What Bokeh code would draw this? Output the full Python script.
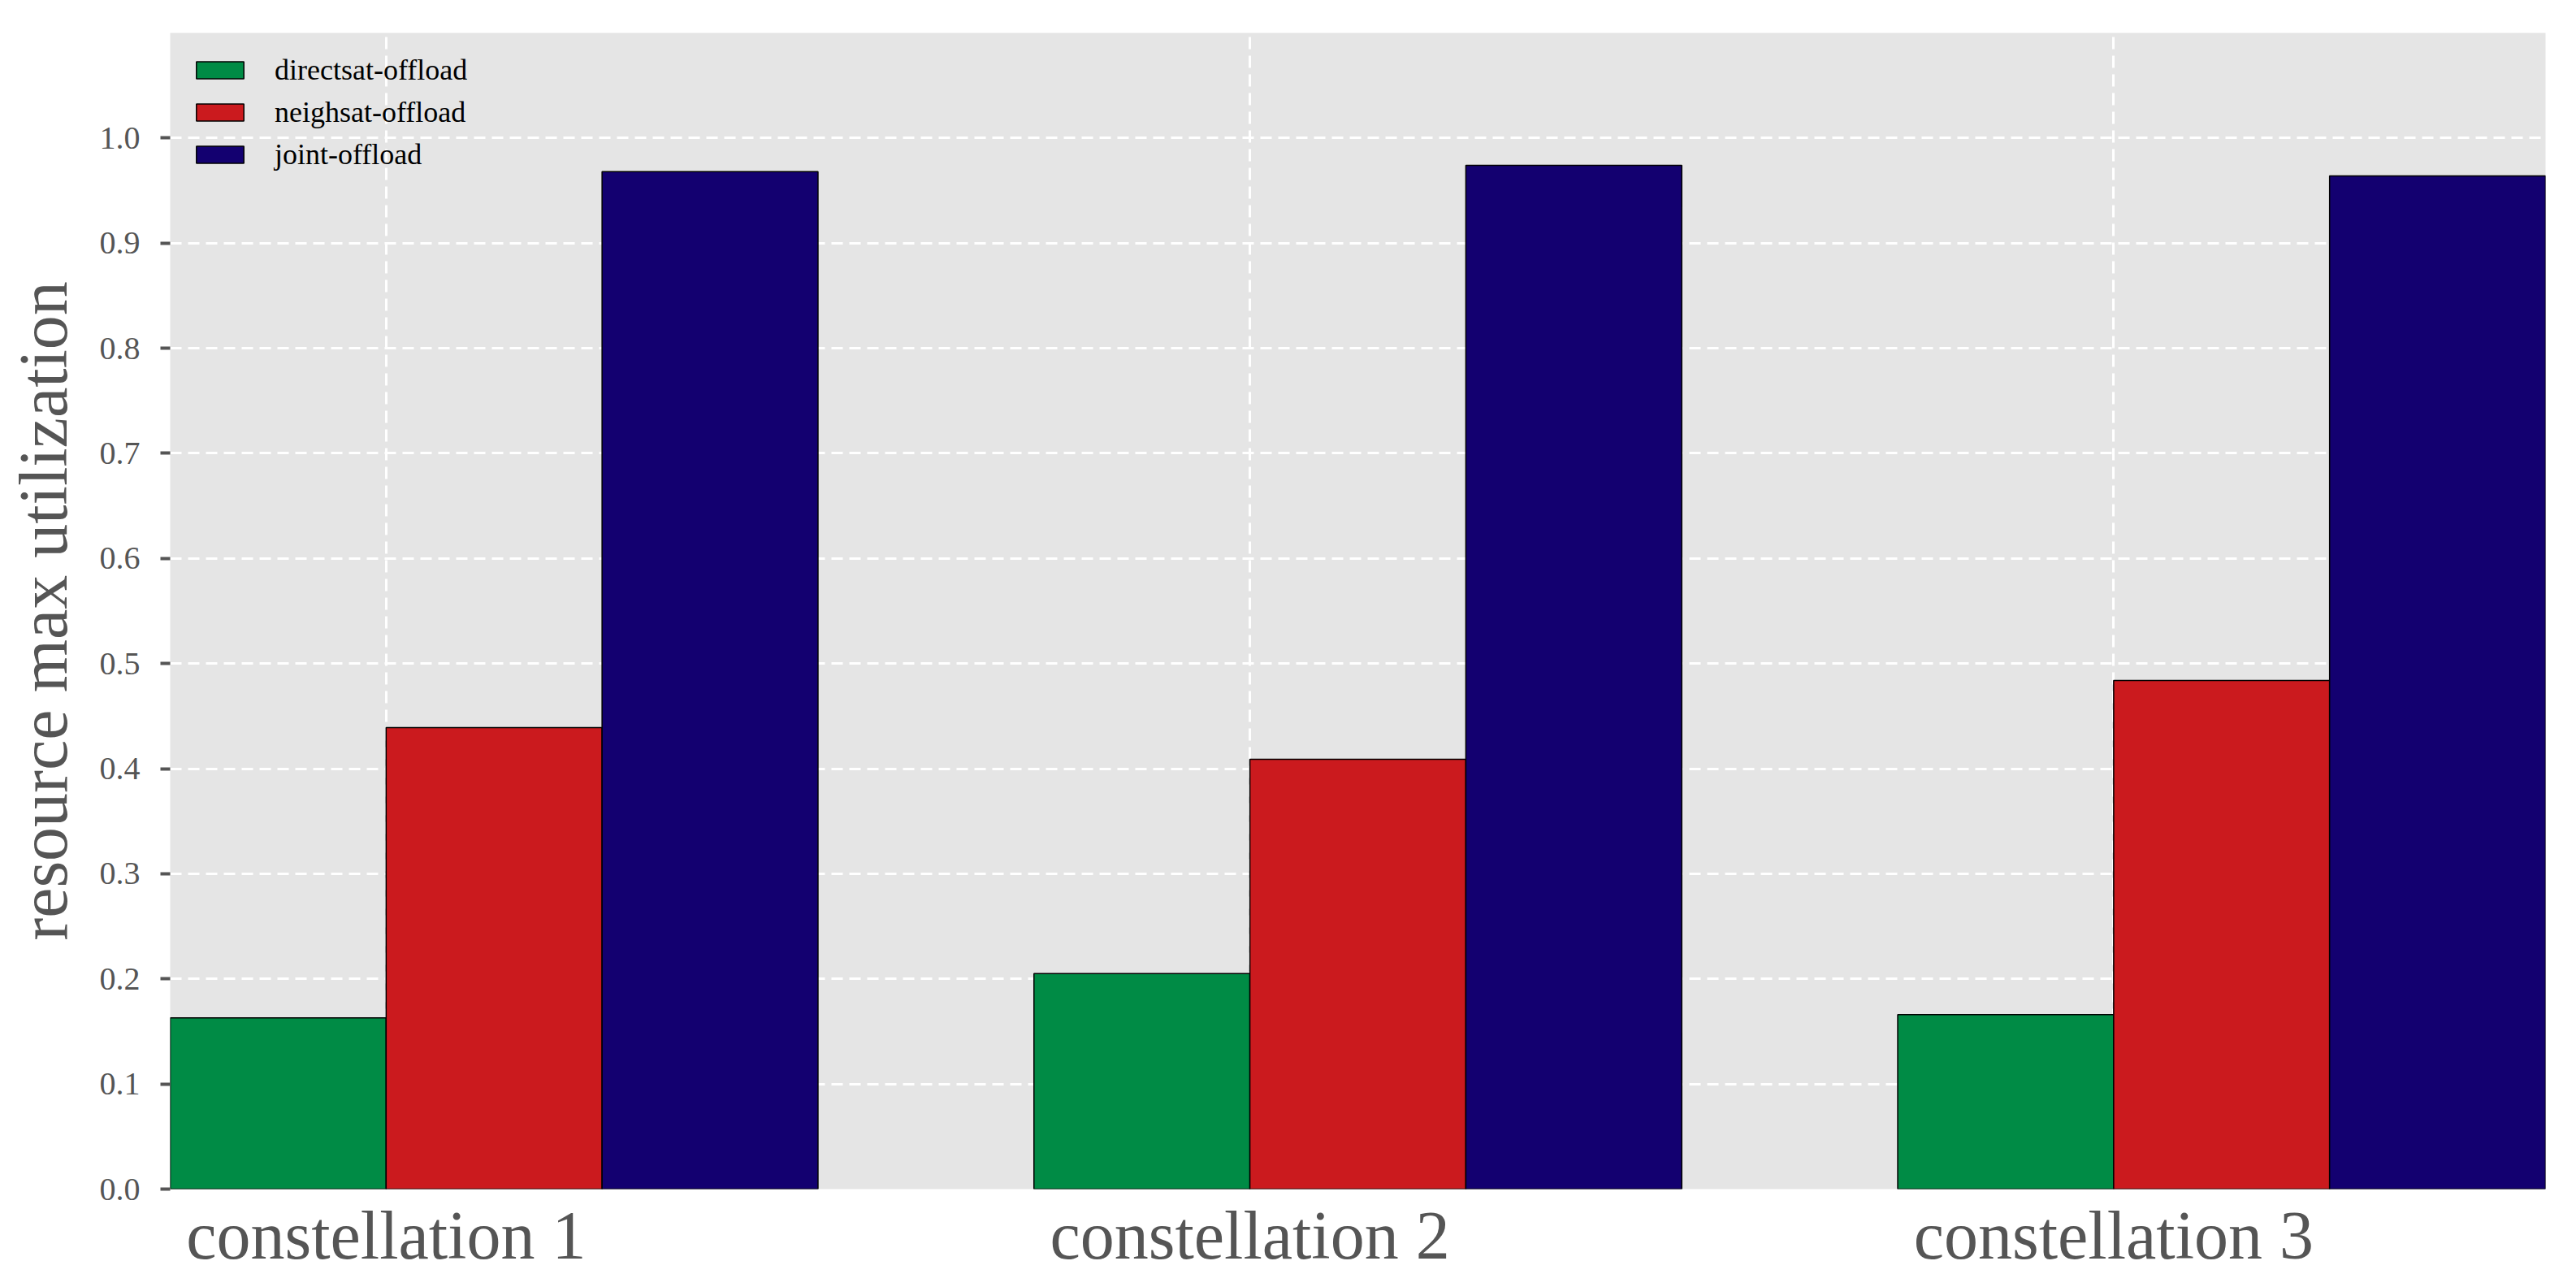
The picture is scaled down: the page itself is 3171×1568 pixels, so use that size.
from bokeh.plotting import figure
from bokeh.models import FixedTicker, Legend, LegendItem, ColumnDataSource
from bokeh.embed import file_html
from bokeh.resources import INLINE

categories = ["constellation 1", "constellation 2", "constellation 3"]
series_names = ["directsat-offload", "neighsat-offload", "joint-offload"]
directsat = [0.163, 0.205, 0.166]
neighsat = [0.439, 0.409, 0.484]
joint = [0.968, 0.974, 0.964]
y_ticks = [0.0, 0.1, 0.2, 0.3, 0.4, 0.5, 0.6, 0.7, 0.8, 0.9, 1.0]

colors = ["#008B45", "#CB1A1E", "#130070"]
offsets = [-0.125, 0.125, 0.375]
bar_w = 0.25

FONT = "Liberation Serif"

p = figure(
    output_backend="svg", toolbar_location=None,
    frame_width=2924, frame_height=1423,
    min_border_left=209, min_border_right=30, min_border_top=40, min_border_bottom=90,
    x_range=(-0.25, 2.5), y_range=(0, 1.1),
    background_fill_color="#E5E5E5", border_fill_color="white",
    outline_line_color=None,
)

items = []
pos = list(range(len(categories)))
for vals, name, col, off in zip([directsat, neighsat, joint], series_names, colors, offsets):
    src = ColumnDataSource(dict(x=[i + off for i in pos], top=vals))
    r = p.vbar(x="x", top="top", width=bar_w, bottom=0, source=src,
               fill_color=col, line_color="black", line_width=1.5)
    items.append(LegendItem(label=name, renderers=[r]))

legend = Legend(items=items, location="top_left")
legend.background_fill_alpha = 0
legend.border_line_alpha = 0
legend.margin = 0
legend.padding = 25
legend.label_text_font = FONT
legend.label_text_font_size = "36px"
legend.label_text_color = "black"
legend.glyph_width = 73
legend.glyph_height = 26
legend.label_height = 26
legend.spacing = 10
legend.label_standoff = 31
p.add_layout(legend, "center")

# axes
p.xaxis.ticker = FixedTicker(ticks=pos)
p.xaxis.major_label_overrides = {i: c for i, c in enumerate(categories)}
p.xaxis.major_label_text_font = FONT
p.xaxis.major_label_text_font_size = "84px"
p.xaxis.major_label_text_color = "#555555"
p.xaxis.major_tick_line_color = None
p.xaxis.minor_tick_line_color = None
p.xaxis.axis_line_color = None
p.xaxis.major_label_standoff = 4

p.yaxis.ticker = FixedTicker(ticks=y_ticks)
p.yaxis.major_label_overrides = {t: f"{t:.1f}" for t in y_ticks}
p.yaxis.major_label_text_font = FONT
p.yaxis.major_label_text_font_size = "40px"
p.yaxis.major_label_text_color = "#555555"
p.yaxis.major_tick_line_color = "#555555"
p.yaxis.major_tick_line_width = 4
p.yaxis.major_tick_out = 12
p.yaxis.major_tick_in = 0
p.yaxis.minor_tick_line_color = None
p.yaxis.axis_line_color = None
p.yaxis.major_label_standoff = 25
p.yaxis.axis_label = "resource max utilization"
p.yaxis.axis_label_text_font = FONT
p.yaxis.axis_label_text_font_size = "84px"
p.yaxis.axis_label_text_font_style = "normal"
p.yaxis.axis_label_text_color = "#555555"
p.yaxis.axis_label_standoff = 20

p.xgrid.grid_line_color = "white"
p.xgrid.grid_line_width = 3
p.xgrid.grid_line_dash = "15 8"
p.ygrid.grid_line_color = "white"
p.ygrid.grid_line_width = 3
p.ygrid.grid_line_dash = "14 8"

open("out.html", "w").write(file_html(p, INLINE))
